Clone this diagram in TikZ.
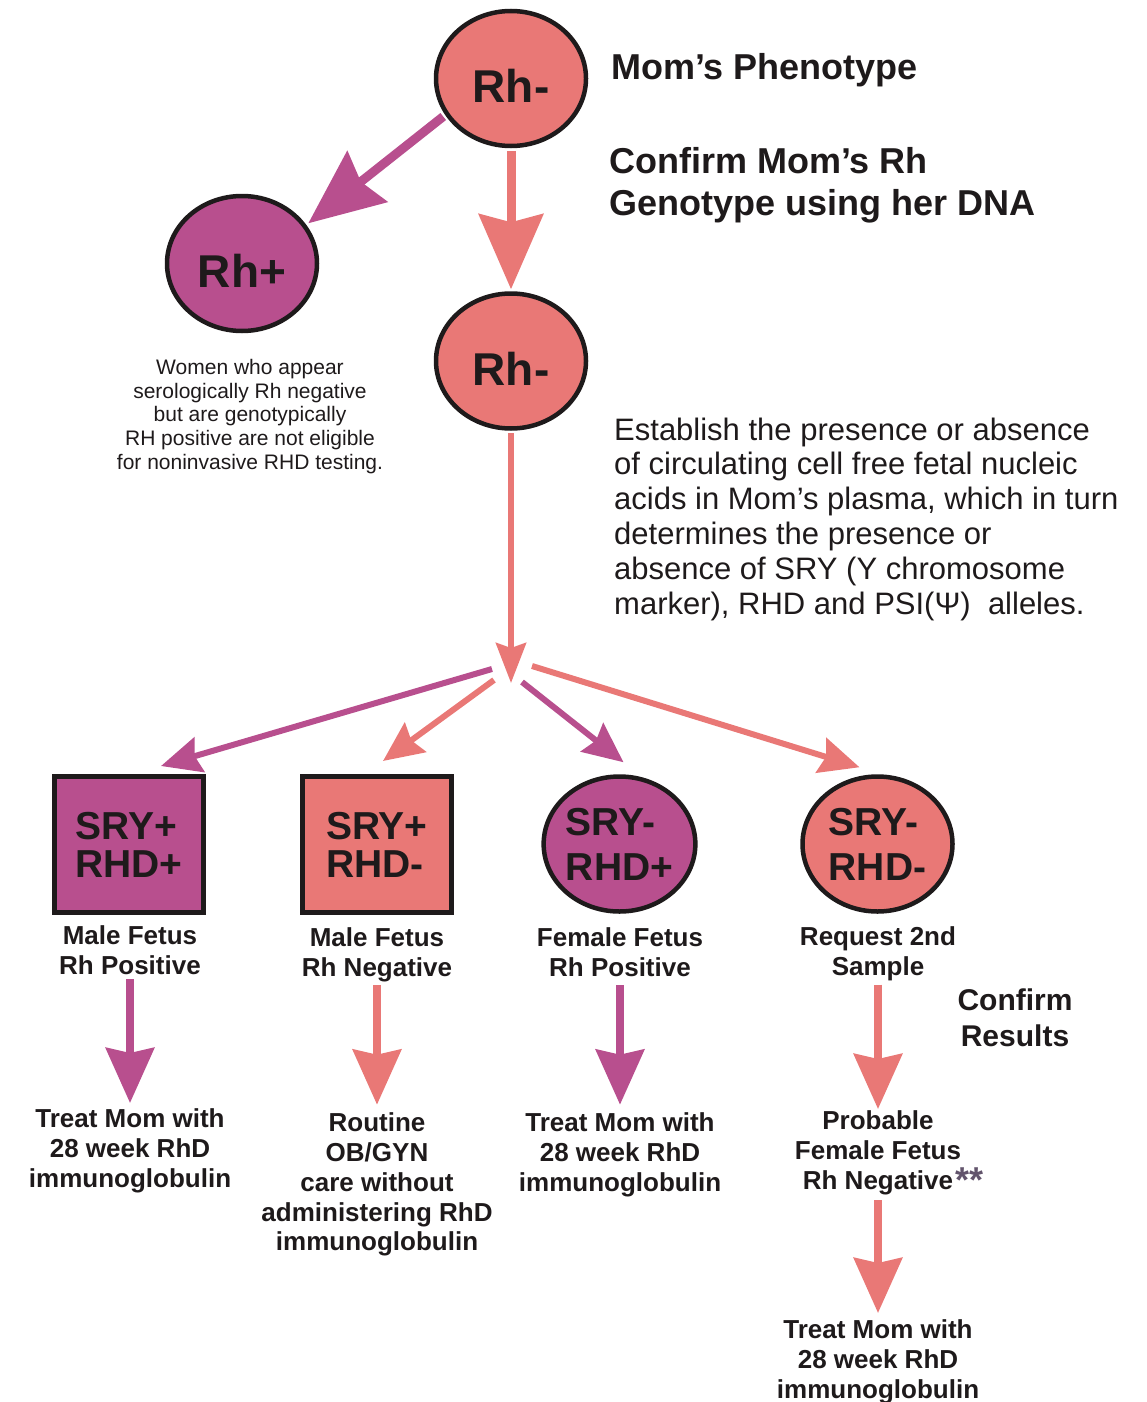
\documentclass[tikz,border=0pt]{standalone}
\usepackage{fontspec}
\setmainfont{Liberation Sans}
\usetikzlibrary{arrows.meta,shapes.geometric}

\definecolor{rhpink}{RGB}{233,120,118}
\definecolor{rhmag}{RGB}{184,79,142}
\definecolor{ink}{RGB}{30,26,27}
\definecolor{starcol}{RGB}{98,84,108}

\tikzset{
  rhcirc/.style={ellipse, draw=ink, line width=4.5pt, minimum width=150pt, minimum height=135pt,
    inner sep=0pt, text=ink, text height=48pt, text depth=0pt, font=\bfseries\fontsize{46}{46}\selectfont},
  srycirc/.style={ellipse, draw=ink, line width=4.5pt, minimum width=150pt, minimum height=135pt,
    inner sep=0pt, align=left, text=ink, font=\bfseries\fontsize{39}{45}\selectfont},
  srybox/.style={rectangle, draw=ink, line width=5pt, minimum width=149pt, minimum height=136pt,
    inner sep=0pt, align=left, text=ink, font=\bfseries\fontsize{39}{38}\selectfont},
  lbl/.style={align=center, inner sep=0pt, text=ink, font=\bfseries\fontsize{26}{29.7}\selectfont},
  bigarrow/.style={line width=9pt, -{Stealth[length=75pt, width=64pt, inset=8pt]}},
  midarrow/.style={line width=6pt, -{Stealth[length=40pt, width=30pt, inset=5pt]}},
  thinarrow/.style={line width=6pt, -{Stealth[length=40pt, width=36pt, inset=5pt]}},
  downarrow/.style={line width=8pt, -{Stealth[length=55pt, width=48pt, inset=5pt]}}
}

\begin{document}
\begin{tikzpicture}[x=1pt, y=-1pt]
  \useasboundingbox (0,0) rectangle (1147,1402);

  % mother
  \node[rhcirc, fill=rhpink] (rh1) at (511,78.5) {Rh-};
  \node[rhcirc, fill=rhmag] (rhp) at (242,263.5) {Rh+};
  \node[rhcirc, fill=rhpink] (rh2) at (511,361) {Rh-};

  \node[anchor=base west, inner sep=0pt, text=ink, font=\bfseries\fontsize{36}{42}\selectfont] (phen) at (611,80) {Mom’s Phenotype};
  \node[anchor=west, align=left, inner sep=0pt, text=ink, font=\bfseries\fontsize{36}{42}\selectfont] (geno) at (609,185) {Confirm Mom’s Rh\\Genotype using her DNA};
  \node[align=center, inner sep=0pt, text=ink, font=\fontsize{21}{23.75}\selectfont] (note) at (250,416.5)
    {Women who appear\\serologically Rh negative\\but are genotypically\\RH positive are not eligible\\for noninvasive RHD testing.};
  \node[anchor=west, align=left, inner sep=0pt, text=ink, font=\fontsize{31}{34.8}\selectfont] (est) at (614,519)
    {Establish the presence or absence\\of circulating cell free fetal nucleic\\acids in Mom’s plasma, which in turn\\determines the presence or\\absence of SRY (Y chromosome\\marker), RHD and PSI(Ψ)~ alleles.};

  \draw[bigarrow, rhmag, shorten <=2.5pt, shorten >=2.5pt] (rh1.209) -- (rhp.31);
  \draw[bigarrow, rhpink, shorten <=2.5pt, shorten >=2pt] (rh1.south) -- (rh2.north);

  % fetus
  \coordinate (split) at (511,683);
  \draw[midarrow, rhpink, shorten <=2.5pt] (rh2.south) -- (split);

  \node[srybox, fill=rhmag] (mrp) at (129,844.5) {SRY+\\RHD+};
  \node[srybox, fill=rhpink] (mrn) at (377,844.5) {SRY+\\RHD-};
  \node[srycirc, fill=rhmag] (frp) at (619.5,844) {SRY-\\RHD+};
  \node[srycirc, fill=rhpink] (frn) at (877.5,844) {SRY-\\RHD-};

  \coordinate (s1) at (492,669);
  \coordinate (s2) at (494,680);
  \coordinate (s3) at (522,682);
  \coordinate (s4) at (532,666);
  \draw[thinarrow, rhmag] (s1) -- ([xshift=32pt, yshift=8pt]mrp.north);
  \draw[thinarrow, rhpink] (s2) -- ([xshift=6pt, yshift=13pt]mrn.north);
  \draw[thinarrow, rhmag] (s3) -- ([xshift=4pt, yshift=12pt]frp.north);
  \draw[thinarrow, rhpink] (s4) -- ([xshift=-18pt, yshift=7pt]frn.north);

  \node[lbl] (lmrp) at (130,950) {Male Fetus\\Rh Positive};
  \node[lbl] (lmrn) at (377,955) {Male Fetus\\Rh Negative};
  \node[lbl] (lfrp) at (620,952.5) {Female Fetus\\Rh Positive};
  \node[lbl] (lfrn) at (878,953.7) {Request 2nd\\Sample};
  \node[lbl, font=\bfseries\fontsize{30}{36}\selectfont] (confirm) at (1015,1018) {Confirm\\Results};

  % treatment
  \node[lbl] (tmrp) at (130,1151) {Treat Mom with\\28 week RhD\\immunoglobulin};
  \node[lbl] (tmrn) at (377,1184.7) {Routine\\OB/GYN\\care without\\administering RhD\\immunoglobulin};
  \node[lbl] (tfrp) at (620,1154.7) {Treat Mom with\\28 week RhD\\immunoglobulin};
  \node[lbl] (tfrn) at (878,1153) {Probable\\Female Fetus\\Rh Negative\rlap{\kern2pt\raisebox{-3pt}{\textcolor{starcol}{\fontsize{36}{36}\selectfont **}}}};
  \node[lbl] (tfin) at (878,1362) {Treat Mom with\\28 week RhD\\immunoglobulin};

  \draw[downarrow, rhmag, shorten <=29pt, shorten >=48pt] (lmrp.center) -- (tmrp.center);
  \draw[downarrow, rhpink, shorten <=30pt, shorten >=80pt] (lmrn.center) -- (tmrn.center);
  \draw[downarrow, rhmag, shorten <=32.5pt, shorten >=50pt] (lfrp.center) -- (tfrp.center);
  \draw[downarrow, rhpink, shorten <=31pt, shorten >=44pt] (lfrn.center) -- (tfrn.center);
  \draw[downarrow, rhpink, shorten <=47pt, shorten >=49pt] (tfrn.center) -- (tfin.center);
\end{tikzpicture}
\end{document}
